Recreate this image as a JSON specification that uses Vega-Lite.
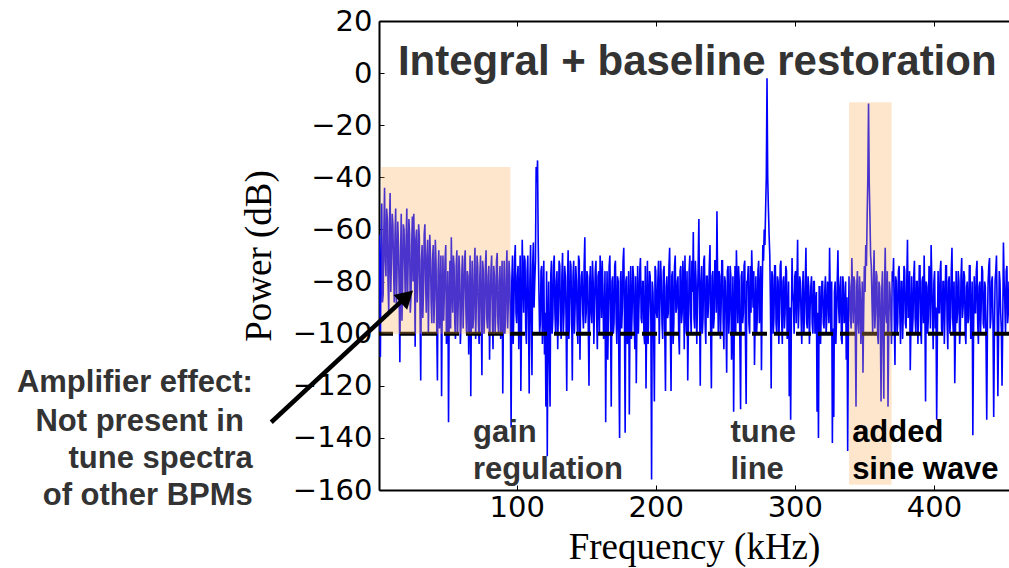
{
  "$schema": "https://vega.github.io/schema/vega-lite/v6.json",
  "width": 630,
  "height": 469,
  "autosize": {"type": "none"},
  "padding": {"left": 379, "top": 21, "right": 0, "bottom": 78},
  "background": "white",
  "config": {"view": {"stroke": null}},
  "datasets": {
    "spec": [
      {"f":1,"p":-62},{"f":2,"p":-109},{"f":3,"p":-50},{"f":4,"p":-85},{"f":5,"p":-44},{"f":6,"p":-78},{"f":7,"p":-56},{"f":8,"p":-92},{"f":9,"p":-46},{"f":10,"p":-70},
      {"f":11,"p":-58},{"f":12,"p":-88},{"f":13,"p":-52},{"f":14,"p":-75},{"f":15,"p":-66},{"f":16,"p":-111},{"f":17,"p":-54},{"f":18,"p":-82},{"f":19,"p":-60},{"f":20,"p":-90},
      {"f":21,"p":-52},{"f":22,"p":-72},{"f":23,"p":-62},{"f":24,"p":-86},{"f":25,"p":-55},{"f":26,"p":-54},{"f":27,"p":-105},{"f":28,"p":-60},{"f":29,"p":-78},{"f":30,"p":-63},
      {"f":31,"p":-118},{"f":32,"p":-66},{"f":33,"p":-84},{"f":34,"p":-58},{"f":35,"p":-92},{"f":36,"p":-64},{"f":37,"p":-80},{"f":38,"p":-70},{"f":39,"p":-96},{"f":40,"p":-66},
      {"f":41,"p":-86},{"f":42,"p":-72},{"f":43,"p":-118},{"f":44,"p":-68},{"f":45,"p":-90},{"f":46,"p":-124},{"f":47,"p":-70},{"f":48,"p":-84},{"f":49,"p":-66},{"f":50,"p":-98},
      {"f":51,"p":-134},{"f":52,"p":-72},{"f":53,"p":-63},{"f":54,"p":-92},{"f":55,"p":-74},{"f":56,"p":-102},{"f":57,"p":-68},{"f":58,"p":-88},{"f":59,"p":-76},{"f":60,"p":-96},
      {"f":61,"p":-70},{"f":62,"p":-86},{"f":63,"p":-68},{"f":64,"p":-100},{"f":65,"p":-78},{"f":66,"p":-90},{"f":67,"p":-124},{"f":68,"p":-72},{"f":69,"p":-94},{"f":70,"p":-67},
      {"f":71,"p":-88},{"f":72,"p":-74},{"f":73,"p":-104},{"f":74,"p":-70},{"f":75,"p":-116},{"f":76,"p":-76},{"f":77,"p":-92},{"f":78,"p":-68},{"f":79,"p":-98},{"f":80,"p":-74},
      {"f":81,"p":-88},{"f":82,"p":-70},{"f":83,"p":-106},{"f":84,"p":-78},{"f":85,"p":-92},{"f":86,"p":-69},{"f":87,"p":-100},{"f":88,"p":-74},{"f":89,"p":-86},{"f":90,"p":-123},
      {"f":91,"p":-72},{"f":92,"p":-94},{"f":93,"p":-68},{"f":94,"p":-88},{"f":95,"p":-78},{"f":96,"p":-136},{"f":97,"p":-70},{"f":98,"p":-90},{"f":99,"p":-66},{"f":100,"p":-96},
      {"f":101,"p":-74},{"f":102,"p":-88},{"f":103,"p":-122},{"f":104,"p":-64},{"f":105,"p":-92},{"f":106,"p":-72},{"f":107,"p":-104},{"f":108,"p":-70},{"f":109,"p":-123},{"f":110,"p":-66},
      {"f":111,"p":-116},{"f":112,"p":-65},{"f":113,"p":-80},{"f":114,"p":-36},{"f":115,"p":-33.5},{"f":116,"p":-84},{"f":117,"p":-96},{"f":118,"p":-74},{"f":119,"p":-88},{"f":120,"p":-108},
      {"f":121,"p":-128},{"f":122,"p":-147},{"f":123,"p":-80},{"f":124,"p":-128},{"f":125,"p":-72},{"f":126,"p":-94},{"f":127,"p":-70},{"f":128,"p":-100},{"f":129,"p":-76},{"f":130,"p":-90},
      {"f":131,"p":-74},{"f":132,"p":-102},{"f":133,"p":-69},{"f":134,"p":-92},{"f":135,"p":-78},{"f":136,"p":-122},{"f":137,"p":-68},{"f":138,"p":-96},{"f":139,"p":-74},{"f":140,"p":-118},
      {"f":141,"p":-72},{"f":142,"p":-90},{"f":143,"p":-80},{"f":144,"p":-104},{"f":145,"p":-72},{"f":146,"p":-88},{"f":147,"p":-76},{"f":148,"p":-98},{"f":149,"p":-63},{"f":150,"p":-92},
      {"f":151,"p":-78},{"f":152,"p":-120},{"f":153,"p":-74},{"f":154,"p":-96},{"f":155,"p":-80},{"f":156,"p":-88},{"f":157,"p":-72},{"f":158,"p":-106},{"f":159,"p":-76},{"f":160,"p":-70},
      {"f":161,"p":-94},{"f":162,"p":-82},{"f":163,"p":-98},{"f":164,"p":-134},{"f":165,"p":-76},{"f":166,"p":-92},{"f":167,"p":-70},{"f":168,"p":-128},{"f":169,"p":-78},{"f":170,"p":-96},
      {"f":171,"p":-72},{"f":172,"p":-104},{"f":173,"p":-80},{"f":174,"p":-140},{"f":175,"p":-76},{"f":176,"p":-90},{"f":177,"p":-67},{"f":178,"p":-138},{"f":179,"p":-78},{"f":180,"p":-100},
      {"f":181,"p":-131},{"f":182,"p":-74},{"f":183,"p":-92},{"f":184,"p":-78},{"f":185,"p":-106},{"f":186,"p":-119},{"f":187,"p":-74},{"f":188,"p":-88},{"f":189,"p":-71},{"f":190,"p":-96},
      {"f":191,"p":-80},{"f":192,"p":-104},{"f":193,"p":-121},{"f":194,"p":-72},{"f":195,"p":-90},{"f":196,"p":-78},{"f":197,"p":-156},{"f":198,"p":-84},{"f":199,"p":-126},{"f":200,"p":-76},
      {"f":201,"p":-94},{"f":202,"p":-72},{"f":203,"p":-88},{"f":204,"p":-80},{"f":205,"p":-102},{"f":206,"p":-74},{"f":207,"p":-122},{"f":208,"p":-78},{"f":209,"p":-92},{"f":210,"p":-67},
      {"f":211,"p":-122},{"f":212,"p":-76},{"f":213,"p":-96},{"f":214,"p":-70},{"f":215,"p":-90},{"f":216,"p":-78},{"f":217,"p":-108},{"f":218,"p":-74},{"f":219,"p":-92},{"f":220,"p":-80},
      {"f":221,"p":-70},{"f":222,"p":-100},{"f":223,"p":-118},{"f":224,"p":-76},{"f":225,"p":-92},{"f":226,"p":-72},{"f":227,"p":-61},{"f":228,"p":-98},{"f":229,"p":-80},{"f":230,"p":-88},
      {"f":231,"p":-56},{"f":232,"p":-120},{"f":233,"p":-74},{"f":234,"p":-94},{"f":235,"p":-70},{"f":236,"p":-104},{"f":237,"p":-78},{"f":238,"p":-88},{"f":239,"p":-66},{"f":240,"p":-121},
      {"f":241,"p":-76},{"f":242,"p":-94},{"f":243,"p":-72},{"f":244,"p":-53},{"f":245,"p":-100},{"f":246,"p":-78},{"f":247,"p":-90},{"f":248,"p":-72},{"f":249,"p":-106},{"f":250,"p":-80},
      {"f":251,"p":-115},{"f":252,"p":-74},{"f":253,"p":-92},{"f":254,"p":-78},{"f":255,"p":-98},{"f":256,"p":-130},{"f":257,"p":-74},{"f":258,"p":-68},{"f":259,"p":-96},{"f":260,"p":-80},
      {"f":261,"p":-129},{"f":262,"p":-76},{"f":263,"p":-92},{"f":264,"p":-72},{"f":265,"p":-127},{"f":266,"p":-80},{"f":267,"p":-96},{"f":268,"p":-74},{"f":269,"p":-68},{"f":270,"p":-90},
      {"f":271,"p":-112},{"f":272,"p":-78},{"f":273,"p":-94},{"f":274,"p":-72},{"f":275,"p":-88},{"f":276,"p":-114},{"f":277,"p":-66},{"f":278,"p":-60},{"f":279,"p":-52},{"f":280,"p":-2},
      {"f":281,"p":-52},{"f":282,"p":-70},{"f":283,"p":-121},{"f":284,"p":-78},{"f":285,"p":-94},{"f":286,"p":-74},{"f":287,"p":-100},{"f":288,"p":-80},{"f":289,"p":-90},{"f":290,"p":-72},
      {"f":291,"p":-104},{"f":292,"p":-78},{"f":293,"p":-92},{"f":294,"p":-76},{"f":295,"p":-98},{"f":296,"p":-124},{"f":297,"p":-133},{"f":298,"p":-71},{"f":299,"p":-88},{"f":300,"p":-78},
      {"f":301,"p":-96},{"f":302,"p":-64},{"f":303,"p":-90},{"f":304,"p":-80},{"f":305,"p":-104},{"f":306,"p":-76},{"f":307,"p":-92},{"f":308,"p":-67},{"f":309,"p":-98},{"f":310,"p":-82},
      {"f":311,"p":-90},{"f":312,"p":-78},{"f":313,"p":-100},{"f":314,"p":-80},{"f":315,"p":-88},{"f":316,"p":-130},{"f":317,"p":-140},{"f":318,"p":-82},{"f":319,"p":-92},{"f":320,"p":-80},
      {"f":321,"p":-98},{"f":322,"p":-78},{"f":323,"p":-94},{"f":324,"p":-82},{"f":325,"p":-67},{"f":326,"p":-100},{"f":327,"p":-142},{"f":328,"p":-132},{"f":329,"p":-80},{"f":330,"p":-94},
      {"f":331,"p":-68},{"f":332,"p":-96},{"f":333,"p":-78},{"f":334,"p":-104},{"f":335,"p":-82},{"f":336,"p":-92},{"f":337,"p":-110},{"f":338,"p":-145},{"f":339,"p":-78},{"f":340,"p":-94},
      {"f":341,"p":-71},{"f":342,"p":-96},{"f":343,"p":-80},{"f":344,"p":-128},{"f":345,"p":-76},{"f":346,"p":-100},{"f":347,"p":-84},{"f":348,"p":-94},{"f":349,"p":-115},{"f":350,"p":-74},
      {"f":351,"p":-66},{"f":352,"p":-55},{"f":353,"p":-11.7},{"f":354,"p":-55},{"f":355,"p":-74},{"f":356,"p":-100},{"f":357,"p":-68},{"f":358,"p":-92},{"f":359,"p":-78},{"f":360,"p":-104},
      {"f":361,"p":-82},{"f":362,"p":-126},{"f":363,"p":-76},{"f":364,"p":-125},{"f":365,"p":-67},{"f":366,"p":-96},{"f":367,"p":-128},{"f":368,"p":-80},{"f":369,"p":-92},{"f":370,"p":-76},
      {"f":371,"p":-71},{"f":372,"p":-112},{"f":373,"p":-80},{"f":374,"p":-96},{"f":375,"p":-74},{"f":376,"p":-104},{"f":377,"p":-80},{"f":378,"p":-92},{"f":379,"p":-76},{"f":380,"p":-98},
      {"f":381,"p":-64},{"f":382,"p":-90},{"f":383,"p":-114},{"f":384,"p":-78},{"f":385,"p":-94},{"f":386,"p":-72},{"f":387,"p":-100},{"f":388,"p":-80},{"f":389,"p":-90},{"f":390,"p":-74},
      {"f":391,"p":-104},{"f":392,"p":-78},{"f":393,"p":-70},{"f":394,"p":-126},{"f":395,"p":-82},{"f":396,"p":-94},{"f":397,"p":-76},{"f":398,"p":-66},{"f":399,"p":-92},{"f":400,"p":-80},
      {"f":401,"p":-98},{"f":402,"p":-133},{"f":403,"p":-76},{"f":404,"p":-92},{"f":405,"p":-72},{"f":406,"p":-100},{"f":407,"p":-80},{"f":408,"p":-90},{"f":409,"p":-74},{"f":410,"p":-106},
      {"f":411,"p":-78},{"f":412,"p":-94},{"f":413,"p":-67},{"f":414,"p":-100},{"f":415,"p":-119},{"f":416,"p":-76},{"f":417,"p":-92},{"f":418,"p":-80},{"f":419,"p":-98},{"f":420,"p":-71},
      {"f":421,"p":-90},{"f":422,"p":-78},{"f":423,"p":-104},{"f":424,"p":-80},{"f":425,"p":-94},{"f":426,"p":-74},{"f":427,"p":-100},{"f":428,"p":-139},{"f":429,"p":-78},{"f":430,"p":-92},
      {"f":431,"p":-72},{"f":432,"p":-104},{"f":433,"p":-80},{"f":434,"p":-90},{"f":435,"p":-76},{"f":436,"p":-98},{"f":437,"p":-82},{"f":438,"p":-133},{"f":439,"p":-80},{"f":440,"p":-71},
      {"f":441,"p":-94},{"f":442,"p":-78},{"f":443,"p":-132},{"f":444,"p":-80},{"f":445,"p":-70},{"f":446,"p":-124},{"f":447,"p":-76},{"f":448,"p":-92},{"f":449,"p":-120},{"f":450,"p":-65},
      {"f":451,"p":-88},{"f":452,"p":-76},{"f":453,"p":-96},{"f":454,"p":-80},
      {"f":1.5,"p":-75},{"f":2.5,"p":-68},{"f":3.5,"p":-88},{"f":4.5,"p":-60},{"f":5.5,"p":-72},{"f":6.5,"p":-52},{"f":7.5,"p":-80},{"f":8.5,"p":-58},{"f":9.5,"p":-84},{"f":10.5,"p":-54},
      {"f":11.5,"p":-76},{"f":12.5,"p":-62},{"f":13.5,"p":-90},{"f":14.5,"p":-57},{"f":15.5,"p":-84},{"f":16.5,"p":-70},{"f":17.5,"p":-95},{"f":18.5,"p":-58},{"f":19.5,"p":-74},{"f":20.5,"p":-64},
      {"f":21.5,"p":-88},{"f":22.5,"p":-56},{"f":23.5,"p":-92},{"f":24.5,"p":-66},{"f":25.5,"p":-80},{"f":26.5,"p":-70},{"f":27.5,"p":-64},{"f":28.5,"p":-88},{"f":29.5,"p":-58},{"f":30.5,"p":-90},
      {"f":31.5,"p":-72},{"f":32.5,"p":-94},{"f":33.5,"p":-62},{"f":34.5,"p":-80},{"f":35.5,"p":-70},{"f":36.5,"p":-100},{"f":37.5,"p":-62},{"f":38.5,"p":-88},{"f":39.5,"p":-72},{"f":40.5,"p":-96},
      {"f":41.5,"p":-64},{"f":42.5,"p":-96},{"f":43.5,"p":-76},{"f":44.5,"p":-98},{"f":45.5,"p":-70},{"f":46.5,"p":-84},{"f":47.5,"p":-95},{"f":48.5,"p":-72},{"f":49.5,"p":-104},{"f":50.5,"p":-76},
      {"f":51.5,"p":-90},{"f":52.5,"p":-98},{"f":53.5,"p":-82},{"f":54.5,"p":-70},{"f":55.5,"p":-96},{"f":56.5,"p":-74},{"f":57.5,"p":-100},{"f":58.5,"p":-70},{"f":59.5,"p":-104},{"f":60.5,"p":-78},
      {"f":61.5,"p":-98},{"f":62.5,"p":-72},{"f":63.5,"p":-92},{"f":64.5,"p":-76},{"f":65.5,"p":-108},{"f":66.5,"p":-70},{"f":67.5,"p":-86},{"f":68.5,"p":-98},{"f":69.5,"p":-76},{"f":70.5,"p":-102},
      {"f":71.5,"p":-70},{"f":72.5,"p":-96},{"f":73.5,"p":-78},{"f":74.5,"p":-92},{"f":75.5,"p":-72},{"f":76.5,"p":-100},{"f":77.5,"p":-74},{"f":78.5,"p":-94},{"f":79.5,"p":-78},{"f":80.5,"p":-110},
      {"f":81.5,"p":-76},{"f":82.5,"p":-94},{"f":83.5,"p":-74},{"f":84.5,"p":-100},{"f":85.5,"p":-72},{"f":86.5,"p":-96},{"f":87.5,"p":-80},{"f":88.5,"p":-102},{"f":89.5,"p":-72},{"f":90.5,"p":-90},
      {"f":91.5,"p":-100},{"f":92.5,"p":-76},{"f":93.5,"p":-98},{"f":94.5,"p":-72},{"f":95.5,"p":-96},{"f":96.5,"p":-80},{"f":97.5,"p":-104},{"f":98.5,"p":-72},{"f":99.5,"p":-92},{"f":100.5,"p":-78},
      {"f":101.5,"p":-106},{"f":102.5,"p":-70},{"f":103.5,"p":-94},{"f":104.5,"p":-80},{"f":105.5,"p":-70},{"f":106.5,"p":-98},{"f":107.5,"p":-76},{"f":108.5,"p":-94},{"f":109.5,"p":-80},{"f":110.5,"p":-96},
      {"f":111.5,"p":-74},{"f":112.5,"p":-90},{"f":113.5,"p":-72},{"f":114.5,"p":-42},{"f":115.5,"p":-66},{"f":116.5,"p":-100},{"f":117.5,"p":-76},{"f":118.5,"p":-104},{"f":119.5,"p":-72},{"f":120.5,"p":-92},
      {"f":121.5,"p":-76},{"f":122.5,"p":-96},{"f":123.5,"p":-110},{"f":124.5,"p":-78},{"f":125.5,"p":-100},{"f":126.5,"p":-74},{"f":127.5,"p":-92},{"f":128.5,"p":-80},{"f":129.5,"p":-106},{"f":130.5,"p":-72},
      {"f":131.5,"p":-96},{"f":132.5,"p":-78},{"f":133.5,"p":-100},{"f":134.5,"p":-74},{"f":135.5,"p":-94},{"f":136.5,"p":-80},{"f":137.5,"p":-102},{"f":138.5,"p":-72},{"f":139.5,"p":-90},{"f":140.5,"p":-78},
      {"f":141.5,"p":-100},{"f":142.5,"p":-74},{"f":143.5,"p":-96},{"f":144.5,"p":-70},{"f":145.5,"p":-110},{"f":146.5,"p":-78},{"f":147.5,"p":-92},{"f":148.5,"p":-74},{"f":149.5,"p":-96},{"f":150.5,"p":-76},
      {"f":151.5,"p":-98},{"f":152.5,"p":-80},{"f":153.5,"p":-92},{"f":154.5,"p":-72},{"f":155.5,"p":-104},{"f":156.5,"p":-76},{"f":157.5,"p":-94},{"f":158.5,"p":-78},{"f":159.5,"p":-100},{"f":160.5,"p":-80},
      {"f":161.5,"p":-72},{"f":162.5,"p":-102},{"f":163.5,"p":-76},{"f":164.5,"p":-94},{"f":165.5,"p":-110},{"f":166.5,"p":-74},{"f":167.5,"p":-96},{"f":168.5,"p":-80},{"f":169.5,"p":-100},{"f":170.5,"p":-74},
      {"f":171.5,"p":-94},{"f":172.5,"p":-78},{"f":173.5,"p":-112},{"f":174.5,"p":-80},{"f":175.5,"p":-98},{"f":176.5,"p":-72},{"f":177.5,"p":-94},{"f":178.5,"p":-80},{"f":179.5,"p":-104},{"f":180.5,"p":-76},
      {"f":181.5,"p":-90},{"f":182.5,"p":-102},{"f":183.5,"p":-74},{"f":184.5,"p":-96},{"f":185.5,"p":-78},{"f":186.5,"p":-92},{"f":187.5,"p":-100},{"f":188.5,"p":-76},{"f":189.5,"p":-94},{"f":190.5,"p":-80},
      {"f":191.5,"p":-100},{"f":192.5,"p":-74},{"f":193.5,"p":-92},{"f":194.5,"p":-104},{"f":195.5,"p":-76},{"f":196.5,"p":-96},{"f":197.5,"p":-80},{"f":198.5,"p":-100},{"f":199.5,"p":-74},{"f":200.5,"p":-92},
      {"f":201.5,"p":-80},{"f":202.5,"p":-104},{"f":203.5,"p":-72},{"f":204.5,"p":-96},{"f":205.5,"p":-76},{"f":206.5,"p":-100},{"f":207.5,"p":-82},{"f":208.5,"p":-94},{"f":209.5,"p":-74},{"f":210.5,"p":-98},
      {"f":211.5,"p":-78},{"f":212.5,"p":-104},{"f":213.5,"p":-74},{"f":214.5,"p":-92},{"f":215.5,"p":-80},{"f":216.5,"p":-100},{"f":217.5,"p":-76},{"f":218.5,"p":-96},{"f":219.5,"p":-72},{"f":220.5,"p":-106},
      {"f":221.5,"p":-90},{"f":222.5,"p":-76},{"f":223.5,"p":-96},{"f":224.5,"p":-70},{"f":225.5,"p":-100},{"f":226.5,"p":-84},{"f":227.5,"p":-94},{"f":228.5,"p":-72},{"f":229.5,"p":-104},{"f":230.5,"p":-74},
      {"f":231.5,"p":-90},{"f":232.5,"p":-80},{"f":233.5,"p":-100},{"f":234.5,"p":-72},{"f":235.5,"p":-96},{"f":236.5,"p":-78},{"f":237.5,"p":-94},{"f":238.5,"p":-74},{"f":239.5,"p":-100},{"f":240.5,"p":-78},
      {"f":241.5,"p":-98},{"f":242.5,"p":-72},{"f":243.5,"p":-92},{"f":244.5,"p":-80},{"f":245.5,"p":-76},{"f":246.5,"p":-102},{"f":247.5,"p":-72},{"f":248.5,"p":-96},{"f":249.5,"p":-78},{"f":250.5,"p":-94},
      {"f":251.5,"p":-76},{"f":252.5,"p":-100},{"f":253.5,"p":-74},{"f":254.5,"p":-110},{"f":255.5,"p":-78},{"f":256.5,"p":-94},{"f":257.5,"p":-100},{"f":258.5,"p":-82},{"f":259.5,"p":-74},{"f":260.5,"p":-104},
      {"f":261.5,"p":-78},{"f":262.5,"p":-96},{"f":263.5,"p":-74},{"f":264.5,"p":-102},{"f":265.5,"p":-80},{"f":266.5,"p":-74},{"f":267.5,"p":-100},{"f":268.5,"p":-92},{"f":269.5,"p":-80},{"f":270.5,"p":-76},
      {"f":271.5,"p":-94},{"f":272.5,"p":-100},{"f":273.5,"p":-76},{"f":274.5,"p":-96},{"f":275.5,"p":-74},{"f":276.5,"p":-86},{"f":277.5,"p":-72},{"f":278.5,"p":-66},{"f":279.5,"p":-40},{"f":280.5,"p":-40},
      {"f":281.5,"p":-62},{"f":282.5,"p":-90},{"f":283.5,"p":-76},{"f":284.5,"p":-100},{"f":285.5,"p":-74},{"f":286.5,"p":-96},{"f":287.5,"p":-78},{"f":288.5,"p":-104},{"f":289.5,"p":-74},{"f":290.5,"p":-94},
      {"f":291.5,"p":-80},{"f":292.5,"p":-98},{"f":293.5,"p":-74},{"f":294.5,"p":-102},{"f":295.5,"p":-80},{"f":296.5,"p":-90},{"f":297.5,"p":-96},{"f":298.5,"p":-84},{"f":299.5,"p":-100},{"f":300.5,"p":-76},
      {"f":301.5,"p":-82},{"f":302.5,"p":-98},{"f":303.5,"p":-78},{"f":304.5,"p":-94},{"f":305.5,"p":-84},{"f":306.5,"p":-100},{"f":307.5,"p":-80},{"f":308.5,"p":-96},{"f":309.5,"p":-78},{"f":310.5,"p":-104},
      {"f":311.5,"p":-82},{"f":312.5,"p":-96},{"f":313.5,"p":-80},{"f":314.5,"p":-100},{"f":315.5,"p":-84},{"f":316.5,"p":-92},{"f":317.5,"p":-82},{"f":318.5,"p":-104},{"f":319.5,"p":-80},{"f":320.5,"p":-96},
      {"f":321.5,"p":-84},{"f":322.5,"p":-100},{"f":323.5,"p":-80},{"f":324.5,"p":-96},{"f":325.5,"p":-88},{"f":326.5,"p":-80},{"f":327.5,"p":-98},{"f":328.5,"p":-84},{"f":329.5,"p":-104},{"f":330.5,"p":-80},
      {"f":331.5,"p":-90},{"f":332.5,"p":-82},{"f":333.5,"p":-102},{"f":334.5,"p":-78},{"f":335.5,"p":-96},{"f":336.5,"p":-80},{"f":337.5,"p":-86},{"f":338.5,"p":-100},{"f":339.5,"p":-82},{"f":340.5,"p":-98},
      {"f":341.5,"p":-84},{"f":342.5,"p":-78},{"f":343.5,"p":-100},{"f":344.5,"p":-82},{"f":345.5,"p":-96},{"f":346.5,"p":-78},{"f":347.5,"p":-104},{"f":348.5,"p":-80},{"f":349.5,"p":-92},{"f":350.5,"p":-84},
      {"f":351.5,"p":-74},{"f":352.5,"p":-40},{"f":353.5,"p":-42},{"f":354.5,"p":-70},{"f":355.5,"p":-88},{"f":356.5,"p":-80},{"f":357.5,"p":-98},{"f":358.5,"p":-76},{"f":359.5,"p":-100},{"f":360.5,"p":-80},
      {"f":361.5,"p":-96},{"f":362.5,"p":-84},{"f":363.5,"p":-104},{"f":364.5,"p":-82},{"f":365.5,"p":-92},{"f":366.5,"p":-76},{"f":367.5,"p":-100},{"f":368.5,"p":-84},{"f":369.5,"p":-104},{"f":370.5,"p":-80},
      {"f":371.5,"p":-94},{"f":372.5,"p":-78},{"f":373.5,"p":-100},{"f":374.5,"p":-76},{"f":375.5,"p":-92},{"f":376.5,"p":-80},{"f":377.5,"p":-102},{"f":378.5,"p":-74},{"f":379.5,"p":-96},{"f":380.5,"p":-80},
      {"f":381.5,"p":-94},{"f":382.5,"p":-76},{"f":383.5,"p":-96},{"f":384.5,"p":-100},{"f":385.5,"p":-78},{"f":386.5,"p":-94},{"f":387.5,"p":-80},{"f":388.5,"p":-104},{"f":389.5,"p":-74},{"f":390.5,"p":-98},
      {"f":391.5,"p":-80},{"f":392.5,"p":-96},{"f":393.5,"p":-88},{"f":394.5,"p":-80},{"f":395.5,"p":-100},{"f":396.5,"p":-74},{"f":397.5,"p":-98},{"f":398.5,"p":-80},{"f":399.5,"p":-106},{"f":400.5,"p":-76},
      {"f":401.5,"p":-90},{"f":402.5,"p":-100},{"f":403.5,"p":-92},{"f":404.5,"p":-76},{"f":405.5,"p":-98},{"f":406.5,"p":-80},{"f":407.5,"p":-104},{"f":408.5,"p":-74},{"f":409.5,"p":-96},{"f":410.5,"p":-80},
      {"f":411.5,"p":-100},{"f":412.5,"p":-76},{"f":413.5,"p":-94},{"f":414.5,"p":-80},{"f":415.5,"p":-100},{"f":416.5,"p":-96},{"f":417.5,"p":-76},{"f":418.5,"p":-104},{"f":419.5,"p":-78},{"f":420.5,"p":-94},
      {"f":421.5,"p":-76},{"f":422.5,"p":-100},{"f":423.5,"p":-82},{"f":424.5,"p":-96},{"f":425.5,"p":-74},{"f":426.5,"p":-102},{"f":427.5,"p":-80},{"f":428.5,"p":-100},{"f":429.5,"p":-92},{"f":430.5,"p":-76},
      {"f":431.5,"p":-96},{"f":432.5,"p":-82},{"f":433.5,"p":-100},{"f":434.5,"p":-74},{"f":435.5,"p":-96},{"f":436.5,"p":-80},{"f":437.5,"p":-104},{"f":438.5,"p":-96},{"f":439.5,"p":-74},{"f":440.5,"p":-98},
      {"f":441.5,"p":-80},{"f":442.5,"p":-96},{"f":443.5,"p":-100},{"f":444.5,"p":-76},{"f":445.5,"p":-92},{"f":446.5,"p":-100},{"f":447.5,"p":-80},{"f":448.5,"p":-98},{"f":449.5,"p":-96},{"f":450.5,"p":-80},
      {"f":451.5,"p":-100},{"f":452.5,"p":-74},{"f":453.5,"p":-92}
    ],
    "level": [{"v": -100}],
    "boxes": [
      {"a": 2.7, "b": 95.5, "top": -36, "bot": -100},
      {"a": 339, "b": 369.6, "top": -11.2, "bot": -158}
    ],
    "grayText": [
      {"x": 68.6, "y": -141.7, "t": "gain"},
      {"x": 68.6, "y": -155.6, "t": "regulation"},
      {"x": 253.7, "y": -141.7, "t": "tune"},
      {"x": 253.7, "y": -155.8, "t": "line"}
    ],
    "blackText": [
      {"x": 341.2, "y": -141.7, "t": "added"},
      {"x": 341.2, "y": -155.8, "t": "sine wave"}
    ],
    "leftText": [
      {"x": -89.7, "y": -122.5, "t": "Amplifier effect:"},
      {"x": -96.2, "y": -137.2, "t": "Not present in"},
      {"x": -89.7, "y": -151.7, "t": "tune spectra"},
      {"x": -89.7, "y": -165.9, "t": "of other BPMs"}
    ],
    "titleText": [
      {"x": 14.6, "y": -0.9, "t": "Integral + baseline restoration"}
    ],
    "arrow": [
      {"x1": -76.5, "y1": -134, "x2": 20.9, "y2": -85.7}
    ]
  },
  "layer": [
    {
      "data": {"name": "spec"},
      "mark": {"type": "line", "color": "#0000ff", "strokeWidth": 1.6, "clip": true},
      "encoding": {
        "x": {
          "field": "f", "type": "quantitative",
          "scale": {"domain": [1, 454], "nice": false, "zero": false},
          "axis": {
            "orient": "bottom", "values": [100, 200, 300, 400], "title": "Frequency (kHz)",
            "titleFont": "Liberation Serif", "titleFontSize": 37, "titleFontWeight": "normal", "titleColor": "black", "titlePadding": 7,
            "labelFont": "DejaVu Sans", "labelFontSize": 29, "labelColor": "black", "labelPadding": 8,
            "tickSize": -5, "tickColor": "black", "tickWidth": 1,
            "domainColor": "black", "domainWidth": 2, "grid": false
          }
        },
        "y": {
          "field": "p", "type": "quantitative",
          "scale": {"domain": [-160, 20], "nice": false, "zero": false},
          "axis": {
            "values": [-160, -140, -120, -100, -80, -60, -40, -20, 0, 20], "title": "Power (dB)",
            "titleFont": "Liberation Serif", "titleFontSize": 37, "titleFontWeight": "normal", "titleColor": "black", "titlePadding": 14,
            "labelFont": "DejaVu Sans", "labelFontSize": 29, "labelColor": "black", "labelPadding": 12,
            "tickSize": -5, "tickColor": "black", "tickWidth": 1,
            "domainColor": "black", "domainWidth": 2, "grid": false
          }
        }
      }
    },
    {
      "data": {"name": "level"},
      "mark": {"type": "rule", "color": "black", "strokeWidth": 4, "strokeDash": [15, 7]},
      "encoding": {"y": {"field": "v", "type": "quantitative", "axis": null}}
    },
    {
      "data": {"name": "boxes"},
      "mark": {"type": "rect", "color": "#f7ad54", "opacity": 0.3},
      "encoding": {
        "x": {
          "field": "a", "type": "quantitative",
          "axis": {
            "orient": "top", "values": [100, 200, 300, 400], "title": null, "labels": false,
            "tickSize": -5, "tickColor": "black", "tickWidth": 1,
            "domainColor": "black", "domainWidth": 2, "grid": false
          }
        },
        "x2": {"field": "b"},
        "y": {"field": "top", "type": "quantitative", "axis": null},
        "y2": {"field": "bot"}
      }
    },
    {
      "data": {"name": "grayText"},
      "mark": {"type": "text", "font": "Liberation Sans", "fontWeight": "bold", "fontSize": 31, "color": "#333333", "align": "left", "baseline": "alphabetic"},
      "encoding": {
        "x": {"field": "x", "type": "quantitative", "axis": null},
        "y": {"field": "y", "type": "quantitative", "axis": null},
        "text": {"field": "t"}
      }
    },
    {
      "data": {"name": "blackText"},
      "mark": {"type": "text", "font": "Liberation Sans", "fontWeight": "bold", "fontSize": 31, "color": "black", "align": "left", "baseline": "alphabetic"},
      "encoding": {
        "x": {"field": "x", "type": "quantitative", "axis": null},
        "y": {"field": "y", "type": "quantitative", "axis": null},
        "text": {"field": "t"}
      }
    },
    {
      "data": {"name": "leftText"},
      "mark": {"type": "text", "font": "Liberation Sans", "fontWeight": "bold", "fontSize": 31, "color": "#333333", "align": "right", "baseline": "alphabetic"},
      "encoding": {
        "x": {"field": "x", "type": "quantitative", "axis": null},
        "y": {"field": "y", "type": "quantitative", "axis": null},
        "text": {"field": "t"}
      }
    },
    {
      "data": {"name": "titleText"},
      "mark": {"type": "text", "font": "Liberation Sans", "fontWeight": "bold", "fontSize": 42, "color": "#333333", "align": "left", "baseline": "alphabetic"},
      "encoding": {
        "x": {"field": "x", "type": "quantitative", "axis": null},
        "y": {"field": "y", "type": "quantitative", "axis": null},
        "text": {"field": "t"}
      }
    },
    {
      "data": {"name": "arrow"},
      "mark": {"type": "rule", "color": "black", "strokeWidth": 4.5},
      "encoding": {
        "x": {"field": "x1", "type": "quantitative", "axis": null},
        "y": {"field": "y1", "type": "quantitative", "axis": null},
        "x2": {"field": "x2"},
        "y2": {"field": "y2"}
      }
    },
    {
      "data": {"name": "arrow"},
      "mark": {"type": "point", "shape": "triangle-up", "filled": true, "color": "black", "opacity": 1, "size": 400, "angle": 47},
      "encoding": {
        "x": {"field": "x2", "type": "quantitative", "axis": null},
        "y": {"field": "y2", "type": "quantitative", "axis": null}
      }
    }
  ],
  "resolve": {"axis": {"x": "independent", "y": "independent"}}
}
